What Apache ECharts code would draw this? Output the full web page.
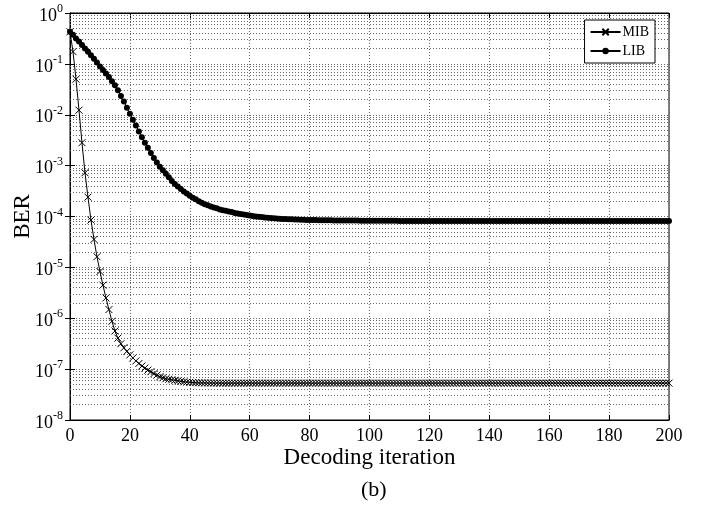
<!DOCTYPE html>
<html style="height: 100%">
<head>
  <meta charset="utf-8">
  <script src="https://cdn.jsdelivr.net/npm/echarts/dist/echarts.min.js"></script>
</head>
<body style="height: 100%; margin: 0; background: #fff">
  <div id="main" style="width: 701px; height: 505px"></div>
<script type="text/javascript">
// BER per decoding iteration (0..200)
var mib = [
  0.427, 0.174, 0.0501, 0.0123, 0.00282, 7.24e-4, 2.40e-4, 8.51e-5, 3.55e-5, 1.62e-5,
  8.32e-6, 4.47e-6, 2.51e-6, 1.48e-6, 8.71e-7, 5.62e-7, 4.07e-7, 3.16e-7, 2.63e-7, 2.24e-7,
  1.91e-7, 1.66e-7, 1.45e-7, 1.29e-7, 1.15e-7, 1.05e-7, 9.55e-8, 8.91e-8, 8.13e-8, 7.59e-8,
  7.08e-8, 6.76e-8, 6.46e-8, 6.31e-8, 6.17e-8, 6.03e-8, 5.89e-8, 5.75e-8, 5.62e-8, 5.56e-8,
  5.50e-8, 5.45e-8, 5.42e-8, 5.40e-8, 5.38e-8, 5.36e-8, 5.35e-8, 5.34e-8, 5.33e-8, 5.32e-8,
  5.31e-8,
  5.3e-8, 5.3e-8, 5.3e-8, 5.3e-8, 5.3e-8, 5.3e-8, 5.3e-8, 5.3e-8, 5.3e-8, 5.3e-8,
  5.3e-8, 5.3e-8, 5.3e-8, 5.3e-8, 5.3e-8, 5.3e-8, 5.3e-8, 5.3e-8, 5.3e-8, 5.3e-8,
  5.3e-8, 5.3e-8, 5.3e-8, 5.3e-8, 5.3e-8, 5.3e-8, 5.3e-8, 5.3e-8, 5.3e-8, 5.3e-8,
  5.3e-8, 5.3e-8, 5.3e-8, 5.3e-8, 5.3e-8, 5.3e-8, 5.3e-8, 5.3e-8, 5.3e-8, 5.3e-8,
  5.3e-8, 5.3e-8, 5.3e-8, 5.3e-8, 5.3e-8, 5.3e-8, 5.3e-8, 5.3e-8, 5.3e-8, 5.3e-8,
  5.3e-8, 5.3e-8, 5.3e-8, 5.3e-8, 5.3e-8, 5.3e-8, 5.3e-8, 5.3e-8, 5.3e-8, 5.3e-8,
  5.3e-8, 5.3e-8, 5.3e-8, 5.3e-8, 5.3e-8, 5.3e-8, 5.3e-8, 5.3e-8, 5.3e-8, 5.3e-8,
  5.3e-8, 5.3e-8, 5.3e-8, 5.3e-8, 5.3e-8, 5.3e-8, 5.3e-8, 5.3e-8, 5.3e-8, 5.3e-8,
  5.3e-8, 5.3e-8, 5.3e-8, 5.3e-8, 5.3e-8, 5.3e-8, 5.3e-8, 5.3e-8, 5.3e-8, 5.3e-8,
  5.3e-8, 5.3e-8, 5.3e-8, 5.3e-8, 5.3e-8, 5.3e-8, 5.3e-8, 5.3e-8, 5.3e-8, 5.3e-8,
  5.3e-8, 5.3e-8, 5.3e-8, 5.3e-8, 5.3e-8, 5.3e-8, 5.3e-8, 5.3e-8, 5.3e-8, 5.3e-8,
  5.3e-8, 5.3e-8, 5.3e-8, 5.3e-8, 5.3e-8, 5.3e-8, 5.3e-8, 5.3e-8, 5.3e-8, 5.3e-8,
  5.3e-8, 5.3e-8, 5.3e-8, 5.3e-8, 5.3e-8, 5.3e-8, 5.3e-8, 5.3e-8, 5.3e-8, 5.3e-8,
  5.3e-8, 5.3e-8, 5.3e-8, 5.3e-8, 5.3e-8, 5.3e-8, 5.3e-8, 5.3e-8, 5.3e-8, 5.3e-8,
  5.3e-8, 5.3e-8, 5.3e-8, 5.3e-8, 5.3e-8, 5.3e-8, 5.3e-8, 5.3e-8, 5.3e-8, 5.3e-8
];
var lib = [
  0.427, 0.372, 0.316, 0.275, 0.234, 0.200, 0.174, 0.148, 0.126, 0.107,
  0.0891, 0.0759, 0.0646, 0.0550, 0.0457, 0.0380, 0.0302, 0.0234, 0.0182, 0.0138,
  0.0105, 0.00794, 0.00617, 0.00468, 0.00363, 0.00282, 0.00224, 0.00178, 0.00141, 0.00115,
  9.55e-4, 8.13e-4, 6.92e-4, 5.89e-4, 5.01e-4, 4.37e-4, 3.89e-4, 3.47e-4, 3.09e-4, 2.82e-4,
  2.57e-4, 2.34e-4, 2.19e-4, 2.00e-4, 1.86e-4, 1.74e-4, 1.66e-4, 1.58e-4, 1.51e-4, 1.45e-4,
  1.38e-4, 1.33e-4, 1.29e-4, 1.26e-4, 1.22e-4, 1.17e-4, 1.15e-4, 1.12e-4, 1.10e-4, 1.07e-4,
  1.05e-4, 1.02e-4, 1.00e-4, 9.9e-5, 9.77e-5, 9.55e-5, 9.44e-5, 9.33e-5, 9.23e-5, 9.12e-5,
  9.02e-5, 8.95e-5, 8.9e-5, 8.85e-5, 8.8e-5, 8.75e-5, 8.7e-5, 8.66e-5, 8.62e-5, 8.58e-5,
  8.55e-5, 8.52e-5, 8.5e-5, 8.48e-5, 8.46e-5, 8.44e-5, 8.42e-5, 8.4e-5, 8.38e-5, 8.36e-5,
  8.35e-5, 8.34e-5, 8.33e-5, 8.32e-5, 8.31e-5, 8.3e-5, 8.3e-5, 8.29e-5, 8.28e-5, 8.27e-5,
  8.25e-5, 8.25e-5, 8.25e-5, 8.25e-5, 8.25e-5, 8.25e-5, 8.25e-5, 8.25e-5, 8.25e-5, 8.25e-5,
  8.2e-5, 8.2e-5, 8.2e-5, 8.2e-5, 8.2e-5, 8.2e-5, 8.2e-5, 8.2e-5, 8.2e-5, 8.2e-5,
  8.2e-5, 8.2e-5, 8.2e-5, 8.2e-5, 8.2e-5, 8.2e-5, 8.2e-5, 8.2e-5, 8.2e-5, 8.2e-5,
  8.2e-5, 8.2e-5, 8.2e-5, 8.2e-5, 8.2e-5, 8.2e-5, 8.2e-5, 8.2e-5, 8.2e-5, 8.2e-5,
  8.2e-5, 8.2e-5, 8.2e-5, 8.2e-5, 8.2e-5, 8.2e-5, 8.2e-5, 8.2e-5, 8.2e-5, 8.2e-5,
  8.2e-5, 8.2e-5, 8.2e-5, 8.2e-5, 8.2e-5, 8.2e-5, 8.2e-5, 8.2e-5, 8.2e-5, 8.2e-5,
  8.2e-5, 8.2e-5, 8.2e-5, 8.2e-5, 8.2e-5, 8.2e-5, 8.2e-5, 8.2e-5, 8.2e-5, 8.2e-5,
  8.2e-5, 8.2e-5, 8.2e-5, 8.2e-5, 8.2e-5, 8.2e-5, 8.2e-5, 8.2e-5, 8.2e-5, 8.2e-5,
  8.2e-5, 8.2e-5, 8.2e-5, 8.2e-5, 8.2e-5, 8.2e-5, 8.2e-5, 8.2e-5, 8.2e-5, 8.2e-5,
  8.2e-5, 8.2e-5, 8.2e-5, 8.2e-5, 8.2e-5, 8.2e-5, 8.2e-5, 8.2e-5, 8.2e-5, 8.2e-5,
  8.2e-5
];

var serif = '"Liberation Serif", "DejaVu Serif", serif';
var gridDot = {color: '#666', width: 1, type: [1, 2]};

// log minor grid lines 2..9 x 10^k, spanning the full x range
var minorLines = [];
for (var k = -8; k < 0; k++) {
  for (var m = 2; m < 10; m++) {
    var v = m * Math.pow(10, k);
    minorLines.push([{coord: [0, v]}, {coord: [200, v]}]);
  }
}

function toPairs(arr) {
  return arr.map(function (v, i) { return [i, v]; });
}

var chart = echarts.init(document.getElementById('main'));
var option = {
  backgroundColor: '#fff',
  animation: false,
  title: {
    text: '(b)',
    left: 356,
    top: 474,
    textStyle: {fontFamily: serif, fontSize: 22, fontWeight: 'normal', color: '#000'}
  },
  legend: {
    orient: 'vertical',
    right: 46,
    top: 20,
    padding: [5, 6, 5, 5],
    itemGap: 5,
    itemWidth: 30,
    itemHeight: 8,
    backgroundColor: '#fff',
    borderColor: '#000',
    borderWidth: 1,
    textStyle: {fontFamily: serif, fontSize: 14, color: '#000', padding: [0, 0, 0, -3]},
    data: ['MIB', 'LIB']
  },
  grid: {
    left: 70, right: 32, top: 13, bottom: 85,
    containLabel: false,
    outerBoundsMode: 'none',
    show: true, borderColor: '#000', borderWidth: 1
  },
  xAxis: [{
    type: 'value',
    min: 0, max: 200, interval: 20,
    name: 'Decoding iteration',
    nameLocation: 'middle',
    nameGap: 26,
    nameMoveOverlap: false,
    nameTextStyle: {fontFamily: serif, fontSize: 23, color: '#000'},
    axisLine: {show: true, lineStyle: {color: '#000'}},
    axisTick: {inside: true, length: 5, lineStyle: {color: '#000'}},
    axisLabel: {fontFamily: serif, fontSize: 18, color: '#000', margin: 7},
    splitLine: {show: true, lineStyle: gridDot}
  }, {
    type: 'value', position: 'top',
    min: 0, max: 200, interval: 20,
    axisLine: {show: true, lineStyle: {color: '#000'}},
    axisTick: {inside: true, length: 5, lineStyle: {color: '#000'}},
    axisLabel: {show: false},
    splitLine: {show: false}
  }],
  yAxis: [{
    type: 'log',
    logBase: 10,
    min: 1e-8, max: 1,
    name: 'BER',
    nameLocation: 'middle',
    nameGap: 36,
    nameMoveOverlap: false,
    nameTextStyle: {fontFamily: serif, fontSize: 23, color: '#000'},
    axisLine: {show: true, lineStyle: {color: '#000'}},
    axisTick: {inside: true, length: 5, lineStyle: {color: '#000'}},
    axisLabel: {
      margin: 7,
      formatter: function (v) {
        return '{b|10}{e|' + Math.round(Math.log10(v)) + '}';
      },
      rich: {
        b: {fontFamily: serif, fontSize: 18, color: '#000', padding: [6, 0, 0, 0]},
        e: {fontFamily: serif, fontSize: 12, color: '#000', verticalAlign: 'bottom', padding: [0, 0, 10, 0]}
      }
    },
    splitLine: {show: true, lineStyle: gridDot}
  }, {
    type: 'log', position: 'right',
    logBase: 10,
    min: 1e-8, max: 1,
    axisLine: {show: true, lineStyle: {color: '#000'}},
    axisTick: {inside: true, length: 5, lineStyle: {color: '#000'}},
    axisLabel: {show: false},
    splitLine: {show: false}
  }],
  series: [{
    name: 'MIB',
    type: 'line',
    data: toPairs(mib),
    showAllSymbol: true,
    symbol: 'path://M0,0L10,10M10,0L0,10',
    symbolSize: 7,
    lineStyle: {color: '#000', width: 1},
    itemStyle: {color: 'rgba(0,0,0,0)', borderColor: '#000', borderWidth: 1},
    z: 3,
    markLine: {
      silent: true,
      symbol: ['none', 'none'],
      label: {show: false},
      lineStyle: gridDot,
      emphasis: {disabled: true},
      data: minorLines,
      z: 1
    }
  }, {
    name: 'LIB',
    type: 'line',
    data: toPairs(lib),
    showAllSymbol: true,
    symbol: 'circle',
    symbolSize: 6,
    lineStyle: {color: '#000', width: 1},
    itemStyle: {color: '#000'},
    z: 3
  }]
};
chart.setOption(option);
</script>
</body>
</html>
